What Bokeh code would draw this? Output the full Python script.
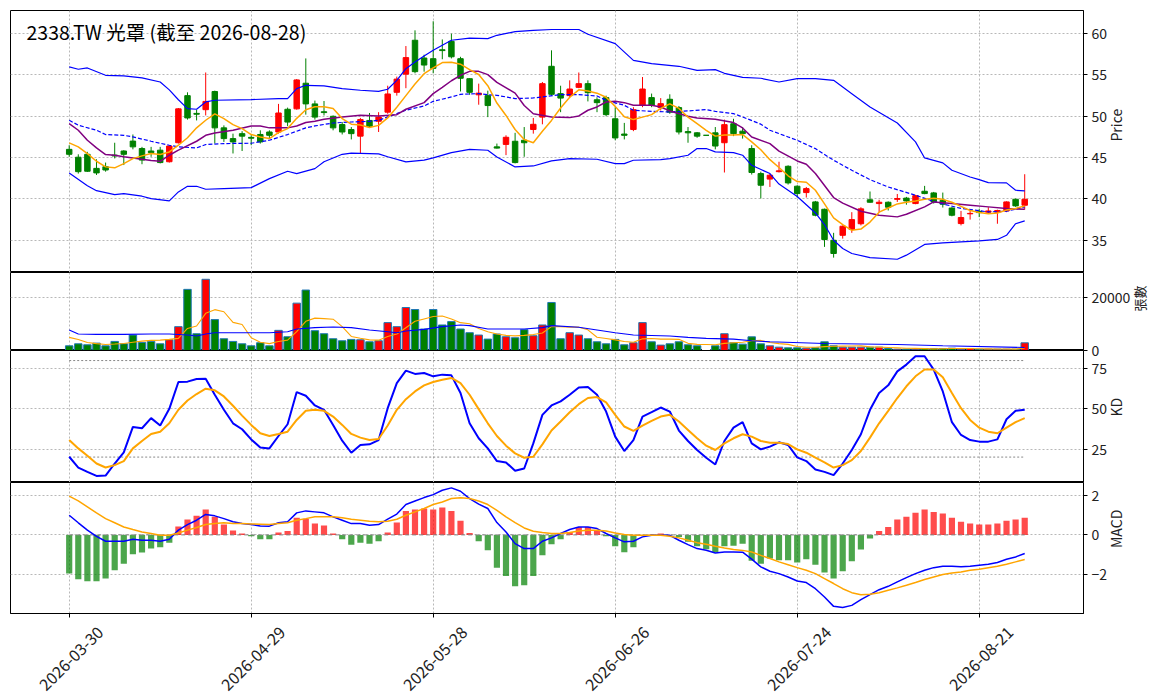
import math
from bokeh.plotting import figure
from bokeh.layouts import column
from bokeh.models import Range1d, FixedTicker, Label, ColumnDataSource, LinearAxis
from bokeh.embed import file_html
from bokeh.resources import INLINE

FONT = "Noto Sans CJK TC"

title_text = "2338.TW 光罩 (截至 2026-08-28)"
tick_idx = [0, 20, 40, 60, 80, 100]
tick_labels = ["2026-03-30", "2026-04-29", "2026-05-28", "2026-06-26", "2026-07-24", "2026-08-21"]

opens = [46.0, 45.05, 45.4, 43.7, 43.9, 45.3, 45.8, 47.0, 46.1, 45.8,
         45.9, 44.5, 46.8, 52.5, 50.35, 50.8, 53.0, 48.6, 47.3, 47.9,
         47.45, 47.8, 48.1, 48.1, 50.85, 50.9, 54.0, 51.5, 50.55, 50.0,
         49.0, 48.4, 47.6, 49.5, 49.4, 50.5, 52.9, 55.1, 59.2, 57.05,
         56.97, 58.05, 59.07, 56.97, 54.55, 52.6, 52.5, 46.3, 46.6, 46.98,
         47.1, 48.4, 49.9, 56.05, 52.74, 52.5, 53.5, 53.95, 52.0, 52.26,
         49.7, 47.85, 48.4, 51.33, 52.26, 51.05, 52.06, 51.05, 48.15, 48.0,
         47.7, 48.0, 46.8, 49.1, 48.2, 46.1, 43.07, 42.4, 43.3, 43.95,
         41.54, 40.77, 39.64, 38.75, 35.0, 35.6, 36.3, 37.0, 39.9, 39.44,
         39.6, 39.95, 40.1, 39.44, 40.93, 40.73, 39.84, 38.9, 37.02, 38.2,
         38.5, 38.4, 38.4, 38.55, 39.96, 39.24]
highs = [46.5, 45.4, 45.7, 44.8, 44.4, 46.8, 45.9, 47.8, 46.3, 46.3,
         46.3, 46.5, 51.0, 52.9, 50.8, 55.3, 53.1, 48.9, 47.9, 48.2,
         47.7, 48.3, 48.3, 51.5, 51.05, 54.5, 57.0, 51.9, 51.85, 50.1,
         49.3, 48.7, 49.8, 50.4, 50.5, 53.7, 54.8, 58.5, 60.4, 57.45,
         61.5, 59.3, 60.0, 57.2, 54.6, 53.95, 53.1, 46.7, 47.7, 48.0,
         48.7, 49.8, 54.15, 57.98, 53.7, 54.35, 55.3, 54.35, 52.3, 52.5,
         51.1, 49.2, 51.1, 54.75, 52.75, 52.2, 52.66, 51.25, 48.7, 48.1,
         47.7, 48.7, 49.6, 49.7, 48.7, 46.5, 43.3, 43.07, 44.5, 44.07,
         41.66, 41.45, 39.76, 38.83, 35.9, 36.8, 38.4, 39.0, 40.9, 39.9,
         39.7, 40.6, 40.25, 40.5, 41.58, 40.85, 40.77, 39.0, 38.55, 38.6,
         38.8, 39.0, 38.7, 39.7, 40.04, 42.99]
lows = [45.1, 43.07, 43.27, 42.9, 43.3, 44.9, 44.1, 46.0, 44.2, 45.1,
        44.3, 44.4, 46.7, 49.6, 49.5, 50.1, 46.7, 46.9, 45.5, 45.8,
        46.5, 46.7, 47.3, 47.9, 48.8, 50.8, 50.2, 49.6, 50.1, 48.3,
        47.8, 47.2, 45.5, 48.6, 48.1, 50.3, 52.5, 53.4, 55.2, 55.4,
        55.2, 56.9, 57.0, 53.0, 52.6, 51.4, 49.9, 46.1, 45.3, 44.3,
        45.1, 47.9, 49.03, 52.5, 50.5, 52.2, 53.4, 51.8, 50.5, 50.0,
        47.1, 47.2, 48.2, 51.1, 51.1, 50.7, 50.3, 47.8, 46.8, 47.4,
        47.7, 46.0, 43.2, 47.6, 47.3, 42.95, 40.05, 41.45, 43.2, 41.74,
        40.17, 40.17, 37.9, 34.2, 32.9, 35.2, 35.9, 36.8, 39.56, 38.4,
        38.6, 39.64, 39.3, 39.36, 40.57, 39.44, 38.96, 37.9, 36.8, 37.5,
        37.8, 38.3, 37.0, 38.4, 39.04, 38.7]
closes = [45.4, 43.3, 43.35, 43.15, 43.5, 45.2, 45.4, 46.3, 44.7, 45.6,
          44.4, 46.4, 50.9, 49.8, 50.25, 51.8, 48.6, 47.3, 46.9, 47.6,
          47.35, 46.9, 47.7, 50.4, 49.3, 54.4, 51.5, 49.9, 50.45, 48.6,
          48.1, 47.9, 49.6, 48.8, 49.9, 52.7, 54.5, 57.1, 55.4, 56.2,
          55.8, 57.95, 57.2, 54.6, 52.9, 52.8, 51.3, 46.15, 47.46, 44.4,
          46.8, 49.03, 53.95, 52.66, 52.2, 53.3, 53.95, 52.86, 51.65, 50.2,
          47.38, 47.7, 50.8, 53.3, 51.33, 51.53, 50.5, 48.1, 48.0, 47.6,
          47.7, 46.4, 48.99, 47.9, 47.9, 43.2, 41.66, 42.87, 43.4, 41.94,
          40.65, 41.25, 38.03, 35.09, 33.4, 36.7, 37.5, 38.8, 39.6, 39.6,
          39.0, 40.05, 39.76, 40.4, 40.65, 39.64, 39.36, 38.03, 37.75, 38.25,
          38.35, 38.55, 38.6, 39.64, 39.16, 39.96]
volumes = [1772, 2532, 2152, 2785, 1772, 3418, 2532, 5823, 3038, 3418,
           2532, 4051, 8989, 23041, 6330, 26839, 11647, 4431, 3418, 2532,
           1772, 2912, 1772, 7596, 5191, 17851, 22788, 7469, 6330, 4431,
           3671, 4178, 4051, 3292, 3671, 10508, 8989, 16205, 15445, 8102,
           15445, 9622, 10888, 8102, 6710, 5823, 4304, 6203, 5191, 4811,
           7849, 5570, 9622, 18104, 4431, 6710, 5823, 4431, 3292, 2532,
           4178, 2152, 2912, 10508, 3292, 2026, 2532, 3292, 2152, 1772,
           1800, 1772, 6330, 2912, 2400, 5158, 2516, 1761, 1258, 1006,
           1006, 880, 1006, 3271, 1761, 1258, 1258, 1258, 1258, 1258,
           755, 503, 503, 503, 755, 755, 755, 880, 503, 755,
           503, 503, 503, 503, 503, 2893]

ma5 = [46.78, 46.3, 45.49, 44.56, 43.88, 43.76, 44.28, 44.88, 45.21, 45.49,
       45.37, 45.69, 46.5, 47.4, 48.6, 49.52, 50.3, 49.72, 48.99, 48.51,
       47.79, 47.5, 47.3, 48.03, 48.51, 49.75, 50.8, 51.15, 51.15, 50.95,
       49.72, 49.05, 48.95, 48.65, 48.9, 49.8, 51.1, 52.5, 53.9, 55.16,
       55.85, 56.5, 56.55, 56.3, 55.65, 55.06, 53.7, 51.6, 50.1, 48.4,
       47.2, 46.8, 48.2, 49.5, 51.0, 52.3, 53.2, 53.05, 52.8, 52.3,
       51.2, 49.95, 49.6, 49.9, 50.2, 50.95, 51.5, 50.95, 49.9, 49.1,
       48.3, 47.6, 47.75, 47.75, 47.8, 46.9, 45.95, 44.75, 43.8, 42.8,
       42.1, 42.02, 41.05, 39.4, 37.7, 36.89, 36.2, 36.35, 37.2, 38.4,
       38.9, 39.4, 39.6, 39.76, 39.97, 40.08, 39.95, 39.6, 39.1, 38.6,
       38.35, 38.2, 38.3, 38.65, 38.85, 39.15]

ma10_x = [0, 1, 2, 3, 4, 5, 6, 8, 9, 10, 11, 12, 14, 15, 16, 18, 20, 21, 22, 24,
          25, 26, 27, 28, 30, 32, 34, 36, 37, 39, 40, 41, 42, 43, 44, 45, 46, 47, 49, 50,
          51, 53, 55, 56, 57, 58, 59, 60, 61, 62, 64, 65, 66, 68, 69, 71, 73, 74, 75, 77,
          78, 80, 81, 82, 84, 85, 87, 89, 91, 92, 94, 95, 97, 99, 101, 103, 105]
ma10_y = [49.1, 48.31, 47.1, 46.17, 45.37, 45.3, 45.1, 44.8, 44.64, 44.56, 45.29, 45.9, 46.98, 47.7, 47.99, 48.31, 48.83, 48.83, 48.6, 48.6,
          48.83, 49.24, 49.4, 49.64, 49.92, 50.12, 50.04, 50.2, 50.85, 51.65, 52.74, 53.5, 54.3, 54.96, 55.44, 55.44, 55.04, 54.1, 52.8, 51.3,
          50.3, 49.92, 49.84, 50.04, 50.73, 51.13, 51.73, 51.81, 51.65, 51.33, 51.33, 51.13, 50.65, 50.0, 49.8, 49.64, 49.24, 48.59, 47.5, 46.69,
          45.79, 44.6, 44.2, 43.07, 40.17, 39.5, 38.51, 38.03, 37.83, 38.15, 39.04, 39.64, 39.44, 39.24, 39.04, 38.83, 38.75]

bb_mid_x = [0, 1, 3, 4, 6, 7, 9, 11, 12, 14, 15, 17, 20, 22, 24, 26, 27, 29, 31, 33,
            34, 36, 37, 39, 40, 42, 43, 45, 46, 47, 49, 51, 52, 54, 56, 58, 59, 61, 62, 64,
            66, 68, 70, 71, 73, 74, 76, 77, 79, 80, 82, 84, 86, 88, 90, 93, 95, 96, 98, 101,
            103, 105]
bb_mid_y = [49.52, 48.92, 48.31, 47.79, 47.7, 47.5, 46.98, 46.5, 46.3, 46.17, 46.58, 46.7, 46.74, 47.1, 47.79, 48.6, 48.83, 49.19, 49.31, 49.39,
            49.52, 50.32, 50.73, 51.25, 51.81, 52.34, 52.66, 52.74, 52.62, 52.54, 52.14, 52.22, 52.34, 52.62, 52.62, 52.46, 51.93, 51.33, 50.73, 50.6,
            50.52, 50.65, 50.81, 50.6, 50.32, 49.92, 49.05, 48.31, 47.5, 47.1, 46.09, 44.68, 43.47, 42.34, 41.45, 40.45, 39.7, 39.4, 38.85, 38.43,
            38.51, 39.04]

bb_up_x = [0, 1, 2, 4, 6, 8, 10, 11, 12, 13, 14, 15, 16, 20, 23, 24, 25, 26, 28, 30,
           32, 34, 35, 36, 37, 38, 39, 40, 41, 42, 44, 46, 47, 49, 51, 53, 56, 57, 60, 62,
           64, 67, 69, 71, 72, 74, 76, 78, 80, 82, 84, 86, 88, 91, 93, 94, 96, 97, 99, 100,
           101, 103, 104, 105]
bb_up_y = [55.97, 55.69, 55.85, 54.96, 54.88, 54.64, 54.15, 53.2, 52.0, 50.93, 50.85, 51.74, 51.94, 52.02, 52.14, 52.14, 53.35, 53.75, 53.67, 53.35,
           53.15, 53.02, 53.27, 54.35, 55.76, 56.57, 57.3, 57.98, 58.6, 59.2, 59.45, 59.39, 59.8, 60.25, 60.4, 60.5, 60.5, 59.92, 58.79, 56.77,
           56.37, 56.05, 55.56, 55.64, 55.2, 54.7, 54.6, 54.15, 54.55, 54.55, 54.35, 52.74, 51.13, 49.19, 46.9, 44.96, 44.36, 43.47, 42.66, 42.34,
           41.98, 41.94, 41.05, 40.97]

bb_lo_x = [0, 2, 3, 5, 6, 8, 9, 11, 12, 13, 14, 15, 17, 20, 22, 24, 25, 27, 28, 30,
           31, 34, 35, 37, 39, 40, 42, 44, 46, 47, 49, 51, 53, 55, 58, 60, 61, 62, 65, 66,
           68, 69, 70, 71, 73, 74, 75, 77, 78, 80, 82, 83, 84, 85, 86, 88, 91, 92, 94, 96,
           100, 102, 103, 104, 105]
bb_lo_y = [43.15, 41.6, 41.0, 40.53, 40.65, 40.33, 40.04, 39.76, 40.85, 41.53, 41.53, 41.17, 41.25, 41.37, 42.46, 43.35, 43.07, 43.67, 44.5, 45.4,
           45.55, 45.45, 45.1, 44.48, 44.7, 44.96, 45.6, 46.0, 45.89, 45.08, 43.87, 43.99, 44.6, 44.88, 44.8, 44.28, 44.28, 44.68, 44.76, 44.88,
           45.29, 46.1, 46.1, 45.69, 45.61, 45.29, 44.07, 43.07, 41.8, 40.3, 38.3, 36.9, 35.0, 34.0, 33.4, 32.9, 32.7, 33.2, 34.5, 34.68,
           34.93, 35.1, 35.6, 37.0, 37.34]

vma5 = [4937, 4178, 3038, 2600, 2279, 2450, 2659, 3100, 3545, 3800,
        3925, 4178, 4558, 8300, 9242, 14000, 15400, 14600, 10600, 9800,
        4800, 3100, 2600, 3400, 3900, 7100, 11000, 12200, 12000, 11800,
        9000, 5300, 4600, 4000, 3900, 5300, 6200, 8600, 11000, 11900,
        12800, 13000, 11900, 10500, 10100, 8300, 7100, 6200, 5700, 5500,
        5700, 6000, 6600, 9000, 9000, 8800, 8800, 7800, 5000, 4500,
        4000, 3400, 3100, 4400, 4500, 4300, 4300, 4200, 2700, 2300,
        2250, 2150, 2700, 2900, 3100, 3700, 3800, 3000, 2600, 2300,
        1500, 1200, 1250, 1450, 1600, 1650, 1700, 1750, 1350, 1260,
        1150, 1000, 850, 800, 700, 600, 650, 730, 730, 730,
        680, 630, 550, 550, 500, 980]
vma20_x = [0, 1, 3, 6, 9, 11, 13, 14, 15, 16, 19, 22, 24, 25, 27, 29, 31, 33, 35, 36,
           37, 39, 41, 43, 44, 46, 50, 52, 53, 56, 58, 60, 62, 65, 66, 68, 70, 73, 75, 77,
           83, 91, 96, 105]
vma20_y = [7723, 6203, 6077, 6077, 6203, 6203, 5823, 5444, 6203, 6710, 6710, 6710, 7090, 8102, 8609, 8862, 8609, 7723, 7090, 6710,
           7343, 7976, 8989, 9622, 9368, 8102, 8102, 8609, 9368, 8735, 7723, 6710, 5823, 5570, 5444, 4937, 4558, 4304, 3671, 3292,
           2659, 2279, 1772, 1139]

k_vals = [20.2, 13.5, 10.8, 8.3, 8.5, 16.0, 22.9, 38.75, 37.9, 44.2,
          39.6, 50.0, 66.7, 66.9, 68.5, 68.75, 58.75, 49.4, 41.0, 37.3,
          31.0, 26.0, 25.4, 33.1, 40.4, 60.4, 58.1, 52.1, 49.4, 40.0,
          30.2, 22.7, 27.5, 27.9, 30.6, 50.4, 66.0, 73.75, 71.7, 72.3,
          70.2, 71.25, 70.8, 59.8, 41.0, 31.7, 25.4, 17.5, 16.7, 11.5,
          12.9, 28.5, 46.25, 52.1, 54.6, 58.75, 63.3, 63.5, 58.75, 48.3,
          32.7, 23.75, 30.6, 45.2, 47.9, 50.8, 48.3, 36.5, 30.0, 24.4,
          19.6, 15.4, 30.0, 38.3, 41.7, 28.5, 24.8, 26.5, 29.2, 27.5,
          19.8, 17.5, 12.3, 10.8, 8.75, 16.0, 24.4, 34.2, 49.4, 59.8,
          64.6, 73.3, 77.5, 82.7, 82.7, 74.4, 60.8, 41.7, 33.75, 30.6,
          29.6, 29.6, 31.0, 43.5, 48.75, 49.4]
d_vals = [30.6, 25.4, 20.8, 16.0, 13.5, 15.0, 17.5, 25.4, 30.0, 34.4,
          35.8, 41.0, 49.4, 55.2, 59.2, 62.5, 61.5, 57.7, 51.9, 45.8,
          40.0, 34.8, 33.1, 34.4, 35.8, 43.1, 48.75, 49.4, 48.75, 45.2,
          40.0, 34.4, 32.1, 30.6, 31.25, 39.6, 49.4, 56.0, 60.8, 64.6,
          66.7, 68.1, 69.2, 66.0, 58.75, 49.8, 41.0, 33.1, 27.1, 22.3,
          19.6, 20.2, 27.9, 36.5, 42.1, 47.9, 52.9, 56.7, 57.3, 54.0,
          46.25, 39.0, 36.25, 39.6, 42.5, 45.2, 46.25, 42.1, 36.9, 31.7,
          27.1, 24.4, 28.5, 31.7, 34.2, 32.7, 30.0, 28.95, 28.95, 28.1,
          24.8, 22.7, 19.6, 16.7, 13.5, 15.0, 18.1, 23.75, 32.1, 41.0,
          48.75, 56.7, 64.0, 70.2, 74.4, 74.4, 69.6, 59.8, 50.4, 43.1,
          38.3, 35.8, 34.8, 38.3, 41.7, 44.2]
kd_levels = [20, 80]

dif = [0.99, 0.61, 0.24, -0.07, -0.32, -0.32, -0.32, -0.22, -0.27, -0.27,
       -0.32, -0.22, 0.24, 0.52, 0.74, 1.03, 0.96, 0.82, 0.66, 0.57,
       0.52, 0.45, 0.44, 0.61, 0.66, 1.11, 1.21, 1.16, 1.11, 0.91,
       0.74, 0.57, 0.57, 0.49, 0.52, 0.79, 1.05, 1.53, 1.71, 1.88,
       2.03, 2.25, 2.37, 2.20, 1.83, 1.55, 1.33, 0.62, 0.15, -0.44,
       -0.69, -0.69, -0.32, -0.15, 0.07, 0.27, 0.40, 0.40, 0.32, 0.07,
       -0.15, -0.35, -0.32, -0.10, -0.02, -0.02, -0.02, -0.27, -0.49, -0.69,
       -0.77, -0.91, -0.86, -0.86, -0.87, -1.22, -1.61, -1.83, -1.95, -2.12,
       -2.32, -2.40, -2.71, -3.13, -3.60, -3.66, -3.55, -3.26, -3.01, -2.76,
       -2.59, -2.37, -2.15, -1.95, -1.78, -1.65, -1.58, -1.58, -1.61, -1.58,
       -1.53, -1.48, -1.39, -1.23, -1.11, -0.94]
dea = [1.95, 1.71, 1.41, 1.11, 0.82, 0.61, 0.40, 0.27, 0.15, 0.07,
       -0.02, -0.02, 0.10, 0.24, 0.37, 0.52, 0.57, 0.61, 0.57, 0.57,
       0.55, 0.54, 0.52, 0.57, 0.61, 0.74, 0.82, 0.91, 0.91, 0.91,
       0.86, 0.79, 0.74, 0.69, 0.66, 0.69, 0.79, 0.99, 1.16, 1.33,
       1.53, 1.66, 1.83, 1.87, 1.83, 1.71, 1.53, 1.24, 0.91, 0.62,
       0.35, 0.18, 0.12, 0.07, 0.07, 0.12, 0.20, 0.24, 0.24, 0.20,
       0.10, 0.02, -0.02, -0.02, -0.02, -0.02, -0.07, -0.15, -0.27, -0.39,
       -0.47, -0.57, -0.66, -0.74, -0.78, -0.86, -1.03, -1.19, -1.36, -1.50,
       -1.65, -1.78, -1.95, -2.20, -2.45, -2.71, -2.91, -3.01, -2.99, -2.91,
       -2.79, -2.67, -2.54, -2.40, -2.25, -2.12, -2.00, -1.92, -1.87, -1.78,
       -1.73, -1.65, -1.58, -1.48, -1.36, -1.24]
macd_hist = [-1.95, -2.24, -2.34, -2.34, -2.20, -1.78, -1.45, -0.97, -0.89, -0.69,
             -0.62, -0.39, 0.42, 0.77, 0.96, 1.28, 0.91, 0.52, 0.22, 0.07,
             -0.07, -0.22, -0.22, 0.12, 0.20, 0.87, 0.81, 0.57, 0.47, 0.07,
             -0.22, -0.49, -0.39, -0.44, -0.32, 0.12, 0.62, 1.21, 1.28, 1.33,
             1.28, 1.38, 1.21, 0.71, 0.10, -0.32, -0.77, -1.66, -2.07, -2.59,
             -2.54, -2.07, -1.03, -0.47, -0.22, 0.15, 0.40, 0.40, 0.24, -0.07,
             -0.57, -0.87, -0.62, -0.03, 0.01, 0.07, -0.02, -0.10, -0.35, -0.57,
             -0.72, -0.89, -0.57, -0.55, -0.44, -1.30, -1.45, -1.19, -1.28, -1.28,
             -1.39, -1.23, -1.50, -1.90, -2.20, -1.83, -1.33, -0.74, -0.18, 0.20,
             0.40, 0.77, 0.91, 1.11, 1.28, 1.16, 1.08, 0.87, 0.66, 0.57,
             0.52, 0.52, 0.57, 0.71, 0.77, 0.87]

# ---------------------------------------------------------------
n = len(closes)
idx = list(range(n))
UP, DN = "#ff0000", "#008000"
candle_col = [UP if c > o else DN for o, c in zip(opens, closes)]
vol_col = [UP if c > o else (DN if c < o else "white") for o, c in zip(opens, closes)]
vol_edge = ["#1f77b4" if c != o else "white" for o, c in zip(opens, closes)]
hist_col = [UP if h >= 0 else DN for h in macd_hist]

src = ColumnDataSource(dict(
    x=idx, o=opens, h=highs, l=lows, c=closes,
    top=[max(a, b) for a, b in zip(opens, closes)],
    bot=[min(a, b) for a, b in zip(opens, closes)],
    col=candle_col, vol=volumes, vcol=vol_col, vedge=vol_edge,
    ma5=ma5, vma5=vma5, k=k_vals, d=d_vals, dif=dif, dea=dea,
    hist=macd_hist, hcol=hist_col))

FW = 1073
PX_PER_IDX = 9.1
xr = Range1d(-6.45, 111.46)
GRID = "#b8b8b8"


def make_panel(h, yr, yticks, label, label_size="14px", top_border=0, grid_ticks=None):
    p = figure(frame_width=FW, frame_height=h, x_range=xr, y_range=Range1d(*yr),
               output_backend="svg", toolbar_location=None, y_axis_location="right",
               min_border_left=10, min_border_right=2, min_border_top=top_border,
               min_border_bottom=0)
    p.outline_line_color = "black"
    p.outline_line_width = 1
    p.background_fill_color = "white"
    p.xaxis.visible = False
    p.xgrid.ticker = FixedTicker(ticks=tick_idx)
    p.yaxis.ticker = FixedTicker(ticks=yticks)
    p.ygrid.ticker = FixedTicker(ticks=grid_ticks if grid_ticks is not None else yticks)
    for g in (p.xgrid, p.ygrid):
        g.grid_line_color = GRID
        g.grid_line_dash = "2 2"
        g.grid_line_width = 1
    ax = p.yaxis[0]
    ax.axis_line_color = "black"
    ax.major_tick_out = 4
    ax.major_tick_in = 0
    ax.minor_tick_line_color = None
    ax.major_label_text_font = FONT
    ax.major_label_text_font_size = "14px"
    ax.major_label_text_color = "#222222"
    ax.major_label_standoff = 4
    ax.axis_label = label
    ax.axis_label_text_font = FONT
    ax.axis_label_text_font_size = label_size
    ax.axis_label_text_font_style = "normal"
    ax.axis_label_text_color = "#222222"
    ax.axis_label_standoff = 6
    ax.axis_label_orientation = math.pi / 2
    return p


# ---- price panel
p1 = make_panel(262, (31.1, 62.8), [35, 40, 45, 50, 55, 60], "Price", top_border=10)
p1.segment(x0="x", y0="l", x1="x", y1="h", color="col", line_width=1, source=src)
p1.vbar(x="x", width=0.6, top="top", bottom="bot", fill_color="col", line_color="col",
        line_width=1, source=src)
p1.line(bb_up_x, bb_up_y, color="blue", line_width=1.2)
p1.line(bb_lo_x, bb_lo_y, color="blue", line_width=1.2)
p1.line(bb_mid_x, bb_mid_y, color="blue", line_width=1.2, line_dash="4 2")
p1.line(ma10_x, ma10_y, color="purple", line_width=1.5)
p1.line("x", "ma5", color="orange", line_width=1.5, source=src)
p1.add_layout(Label(x=xr.start + 16 / PX_PER_IDX, y=60.28, text=title_text,
                    text_font=FONT, text_font_size="19.5px", text_baseline="middle",
                    text_align="left", text_color="black"))

# ---- volume panel (its "0" label is drawn by the KD panel's axis, see below)
VOL_MAX = 29400
p2 = make_panel(78, (0, VOL_MAX), [0, 20000], "張數", label_size="13px")
p2.yaxis[0].major_label_overrides = {0: ""}
p2.vbar(x="x", width=0.82, top="vol", bottom=0, fill_color="vcol", line_color="vedge",
        line_width=1, source=src)
p2.line("x", "vma5", color="orange", line_width=1.1, source=src)
p2.line(vma20_x, vma20_y, color="blue", line_width=1.1)

# ---- KD panel; its canvas starts 14px higher (transparent there) so that the
# shared-boundary label "0" of the volume axis lies wholly inside one canvas
OVERLAP = 14
KD_RANGE = (4.2, 86.25)
p3 = make_panel(132, KD_RANGE, [25, 50, 75, KD_RANGE[1]], "KD", top_border=OVERLAP,
                grid_ticks=[25, 50, 75])
p3.margin = (-OVERLAP, 0, 0, 0)
p3.border_fill_color = None
p3.yaxis[0].major_label_overrides = {KD_RANGE[1]: "0"}
for lv in kd_levels:
    p3.line([idx[0], idx[-1]], [lv, lv], color="#888888", line_dash="2 2", line_width=1)
p3.line("x", "k", color="blue", line_width=2, source=src)
p3.line("x", "d", color="orange", line_width=2, source=src)

# ---- MACD panel
p4 = make_panel(131, (-3.96, 2.64), [-2, 0, 2], "MACD")
p4.yaxis[0].major_label_overrides = {-2: "\u22122"}
p4.vbar(x="x", width=0.68, top="hist", bottom=0, fill_color="hcol", line_color=None,
        fill_alpha=0.7, source=src)
p4.line([idx[0], idx[-1]], [0, 0], color="#888888", line_dash="4 3", line_width=1)
p4.line("x", "dif", color="blue", line_width=1.5, source=src)
p4.line("x", "dea", color="orange", line_width=1.5, source=src)

# tick marks on the real positions
p4.xaxis.visible = True
xa = p4.xaxis[0]
xa.ticker = FixedTicker(ticks=tick_idx)
xa.major_label_overrides = {i: "" for i in tick_idx}
xa.major_label_standoff = 0
xa.major_label_text_font_size = "1px"
xa.axis_line_color = "black"
xa.major_tick_out = 4
xa.major_tick_in = 0
xa.minor_tick_line_color = None

# rotated date labels, centred under their ticks (Bokeh anchors the end of the text)
LABEL_SHIFT = 31 / PX_PER_IDX
label_pos = [t + LABEL_SHIFT for t in tick_idx]
la = LinearAxis(ticker=FixedTicker(ticks=label_pos),
                major_label_overrides={pos: s for pos, s in zip(label_pos, tick_labels)})
la.major_label_orientation = math.pi / 4
la.major_label_text_font = FONT
la.major_label_text_font_size = "16px"
la.major_label_text_color = "#222222"
la.major_label_standoff = 6
la.axis_line_color = None
la.major_tick_line_color = None
la.minor_tick_line_color = None
p4.add_layout(la, "below")
p4.min_border_bottom = 2

layout = column(p1, p2, p3, p4, spacing=0)
open("out.html", "w").write(file_html(layout, INLINE))
